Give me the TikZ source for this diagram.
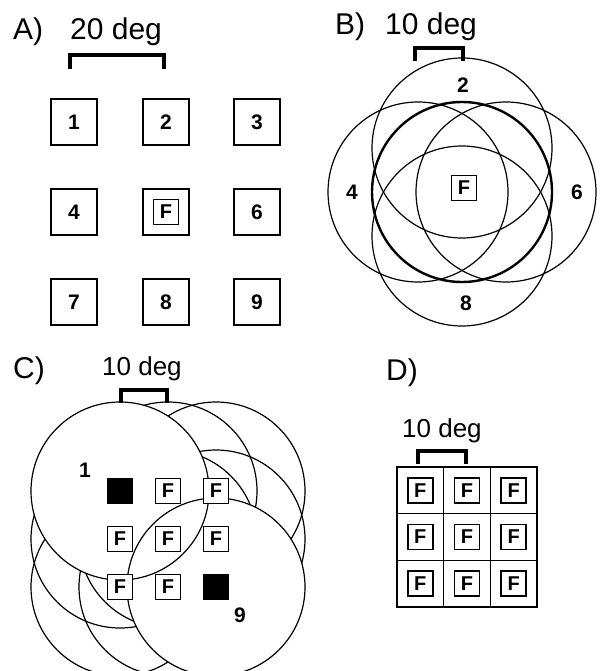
\documentclass[tikz,border=0pt]{standalone}
\usepackage{fontspec}
\setmainfont{Liberation Sans}
\begin{document}
\begin{tikzpicture}[x=1pt,y=-1pt,
  sq/.style={draw,line width=1.8pt,minimum size=46pt,inner sep=0pt,font=\bfseries\fontsize{21}{21}\selectfont},
  fbox/.style={draw,fill=white,line width=1.8pt,minimum size=25pt,inner sep=0pt,font=\bfseries\fontsize{20}{20}\selectfont},
  dbox/.style={fill=black,minimum size=26pt,inner sep=0pt},
  num/.style={font=\bfseries\fontsize{21}{21}\selectfont,inner sep=0pt},
  biglab/.style={font=\fontsize{30}{30}\selectfont,anchor=base west,inner sep=0pt},
  smlab/.style={font=\fontsize{26}{26}\selectfont,anchor=base west,inner sep=0pt},
  brk/.style={line width=3.5pt},
  rfc/.style={draw,circle,minimum size=180pt,inner sep=0pt,line width=1.2pt},
  rfs/.style={draw,circle,minimum size=178pt,inner sep=0pt,line width=1.2pt},
  cell/.style={draw,line width=1.5pt,minimum size=46.67pt,inner sep=0pt}
]
\useasboundingbox (0,0) rectangle (599,671);
\clip (0,0) rectangle (599,671);

% ---------- Panel A ----------
\node[biglab] (labA) at (13,40) {A)};
\node[biglab] (degA) at (70,40) {20 deg};
\draw[brk] (70,69) -- (70,55) -- (164,55) -- (164,69);
\node[sq] (a1) at (74,122) {1};
\node[sq] (a2) at (166,122) {2};
\node[sq] (a3) at (257,122) {3};
\node[sq] (a4) at (74,212) {4};
\node[sq] (a5) at (166,212) {};
\node[fbox] (fa) at (a5) {F};
\node[sq] (a6) at (257,212) {6};
\node[sq] (a7) at (74,302) {7};
\node[sq] (a8) at (166,302) {8};
\node[sq] (a9) at (257,302) {9};

% ---------- Panel B ----------
\node[biglab] (labB) at (335,35) {B)};
\node[biglab] (degB) at (385,35) {10 deg};
\node[rfc] (b2) at (462,148) {};
\node[rfc] (b4) at (418,192) {};
\node[rfc] (b6) at (506,192) {};
\node[rfc] (b8) at (462,236) {};
\node[rfc,line width=2.4pt] (b5) at (462,192) {};
\draw[brk] (415,61) -- (415,48) -- (463,48) -- (463,61);
\node[num] (n2) at (463,85) {2};
\node[num] (n4) at (352,192) {4};
\node[num] (n6) at (577,192) {6};
\node[num] (n8) at (466,303) {8};
\node[fbox] (fb) at (464,188) {F};

% ---------- Panel C ----------
\node[biglab] (labC) at (13,378) {C)};
\node[smlab] (degC) at (102,375) {10 deg};
\node[rfs] (c2) at (168,491) {};
\node[rfs] (c3) at (216,491) {};
\node[rfs] (c4) at (120,539) {};
\node[rfs] (c5) at (168,539) {};
\node[rfs] (c6) at (216,539) {};
\node[rfs] (c7) at (120,587) {};
\node[rfs] (c8) at (168,587) {};
\fill[white] (120,491) circle[radius=89pt] (216,587) circle[radius=89pt];
\node[rfs] (c1) at (120,491) {};
\node[rfs] (c9) at (216,587) {};
\draw[brk] (121,403) -- (121,390) -- (167,390) -- (167,403);
\node[dbox] (k1) at (c1) {};
\node[fbox] (k2) at (c2) {F};
\node[fbox] (k3) at (c3) {F};
\node[fbox] (k4) at (c4) {F};
\node[fbox] (k5) at (c5) {F};
\node[fbox] (k6) at (c6) {F};
\node[fbox] (k7) at (c7) {F};
\node[fbox] (k8) at (c8) {F};
\node[dbox] (k9) at (c9) {};
\node[num] (m1) at (85,470) {1};
\node[num] (m9) at (240,615) {9};

% ---------- Panel D ----------
\node[biglab] (labD) at (386,380) {D)};
\node[smlab] (degD) at (402,437) {10 deg};
\draw[brk] (418,464) -- (418,451) -- (466,451) -- (466,464);
\foreach \i/\x/\y in {1/420.33/490.33,2/467/490.33,3/513.67/490.33,
                      4/420.33/537,5/467/537,6/513.67/537,
                      7/420.33/583.67,8/467/583.67,9/513.67/583.67}{
  \node[cell] (d\i) at (\x,\y) {};
  \node[fbox] (e\i) at (d\i) {F};
}
\end{tikzpicture}
\end{document}
